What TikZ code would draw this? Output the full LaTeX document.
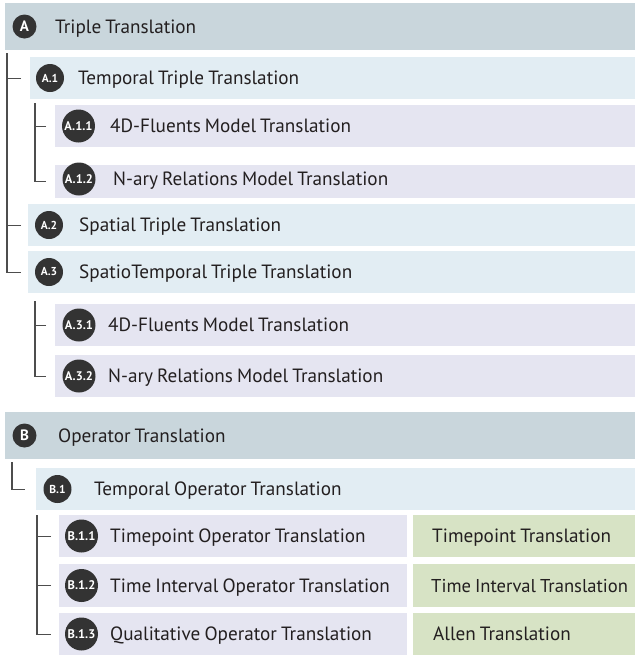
\documentclass[tikz,border=0pt]{standalone}
\usepackage{fontspec}
\setmainfont{PT Sans}[WordSpace=0.8]
\usetikzlibrary{positioning}
\definecolor{barA}{HTML}{C9D6DC}
\definecolor{barB}{HTML}{E2EDF3}
\definecolor{barC}{HTML}{E5E5F1}
\definecolor{barG}{HTML}{D7E3C5}
\definecolor{badgegray}{HTML}{333333}
\definecolor{txtblack}{HTML}{231F20}
\definecolor{linegray}{HTML}{4D4D4D}
\tikzset{
  bar/.style={anchor=north west,inner sep=0pt,minimum height=42pt},
  badge/.style={circle,fill=badgegray,text=white,inner sep=0pt},
  badgeI/.style={badge,minimum size=24pt,font=\bfseries\fontsize{15}{15}\selectfont},
  badgeII/.style={badge,minimum size=28pt,font=\bfseries\fontsize{11.5}{11.5}\selectfont},
  badgeIII/.style={badge,minimum size=33pt,font=\bfseries\fontsize{12.5}{12.5}\selectfont},
  txt/.style={anchor=base west,yshift=-6.6pt,inner sep=0pt,text=txtblack,font=\fontsize{19.2}{21}\selectfont},
  tree/.style={draw=linegray,line width=1.4pt}
}

\begin{document}
\begin{tikzpicture}[x=1pt,y=-1pt]
\useasboundingbox (0,0) rectangle (635,657);
% A
\node[bar,fill=barA,minimum width=630pt,minimum height=47pt] (A) at (5,3) {};
\node[badgeI] (bA) at (24.5,26.5) {A};
\node[txt] (tA) at (55,26.5) {Triple Translation};
\node[bar,fill=barB,minimum width=605pt] (A1) at (30,57) {};
\node[badgeII] (bA1) at (50,78) {A.1};
\node[txt] (tA1) at (78,78) {Temporal Triple Translation};
\node[bar,fill=barC,minimum width=580pt] (A11) at (55,105) {};
\node[badgeIII] (bA11) at (78.5,126) {A.1.1};
\node[txt] (tA11) at (110,126) {4D-Fluents Model Translation};
\node[bar,fill=barC,minimum width=580pt,minimum height=33pt] (A12) at (55,165) {};
\node[badgeIII] (bA12) at (79,179) {A.1.2};
\node[txt] (tA12) at (113,179) {N-ary Relations Model Translation};
\node[bar,fill=barB,minimum width=607pt] (A2) at (28,204) {};
\node[badgeII] (bA2) at (49,225) {A.2};
\node[txt] (tA2) at (79,225) {Spatial Triple Translation};
\node[bar,fill=barB,minimum width=607pt] (A3) at (28,251) {};
\node[badgeII] (bA3) at (49,272) {A.3};
\node[txt] (tA3) at (79,272) {SpatioTemporal Triple Translation};
\node[bar,fill=barC,minimum width=580pt] (A31) at (55,304) {};
\node[badgeIII] (bA31) at (79,325) {A.3.1};
\node[txt] (tA31) at (108,325) {4D-Fluents Model Translation};
\node[bar,fill=barC,minimum width=580pt] (A32) at (55,355) {};
\node[badgeIII] (bA32) at (79,376) {A.3.2};
\node[txt] (tA32) at (108,376) {N-ary Relations Model Translation};
% B
\node[bar,fill=barA,minimum width=630pt,minimum height=47pt] (B) at (5,412) {};
\node[badgeI] (bB) at (24.5,435.5) {B};
\node[txt] (tB) at (58,435.5) {Operator Translation};
\node[bar,fill=barB,minimum width=599pt] (B1) at (36,468) {};
\node[badgeII] (bB1) at (57.5,489) {B.1};
\node[txt] (tB1) at (94,489) {Temporal Operator Translation};
\node[bar,fill=barC,minimum width=348pt] (B11) at (59,515) {};
\node[badgeIII] (bB11) at (81.5,536) {B.1.1};
\node[txt] (tB11) at (110,536) {Timepoint Operator Translation};
\node[bar,fill=barG,minimum width=222pt] (G11) at (413,515) {};
\node[txt] (tG11) at (432,536) {Timepoint Translation};
\node[bar,fill=barC,minimum width=348pt,minimum height=43pt] (B12) at (59,564) {};
\node[badgeIII] (bB12) at (81.5,585.5) {B.1.2};
\node[txt] (tB12) at (110,585.5) {Time Interval Operator Translation};
\node[bar,fill=barG,minimum width=222pt,minimum height=43pt] (G12) at (413,564) {};
\node[txt,font=\fontsize{18.6}{21}\selectfont] (tG12) at (431,585.5) {Time Interval Translation};
\node[bar,fill=barC,minimum width=348pt] (B13) at (59,613) {};
\node[badgeIII] (bB13) at (81.5,634) {B.1.3};
\node[txt] (tB13) at (110,634) {Qualitative Operator Translation};
\node[bar,fill=barG,minimum width=222pt] (G13) at (413,613) {};
\node[txt] (tG13) at (433,634) {Allen Translation};
% tree
\draw[tree] ([xshift=2pt,yshift=-3pt]A.south west) |- ([xshift=-7pt]A3.west);
\draw[tree] ([xshift=-9pt]A1.west) -- ++(-14,0);
\draw[tree] ([xshift=-7pt]A2.west) -- ++(-14,0);
\draw[tree] ([xshift=5pt,yshift=-4pt]A1.south west) |- ([xshift=-9pt]A12.west);
\draw[tree] ([xshift=-9pt]A11.west) -- ++(-11,0);
\draw[tree] ([xshift=7pt,yshift=-8pt]A3.south west) |- ([xshift=-9pt]A32.west);
\draw[tree] ([xshift=-9pt]A31.west) -- ++(-11,0);
\draw[tree] ([xshift=7pt,yshift=-3pt]B.south west) |- ([xshift=-11pt]B1.west);
\draw[tree] ([xshift=1pt,yshift=-5pt]B1.south west) |- ([xshift=-8pt]B13.west);
\draw[tree] ([xshift=-8pt]B11.west) -- ++(-14,0);
\draw[tree] ([xshift=-8pt]B12.west) -- ++(-14,0);
\end{tikzpicture}
\end{document}
